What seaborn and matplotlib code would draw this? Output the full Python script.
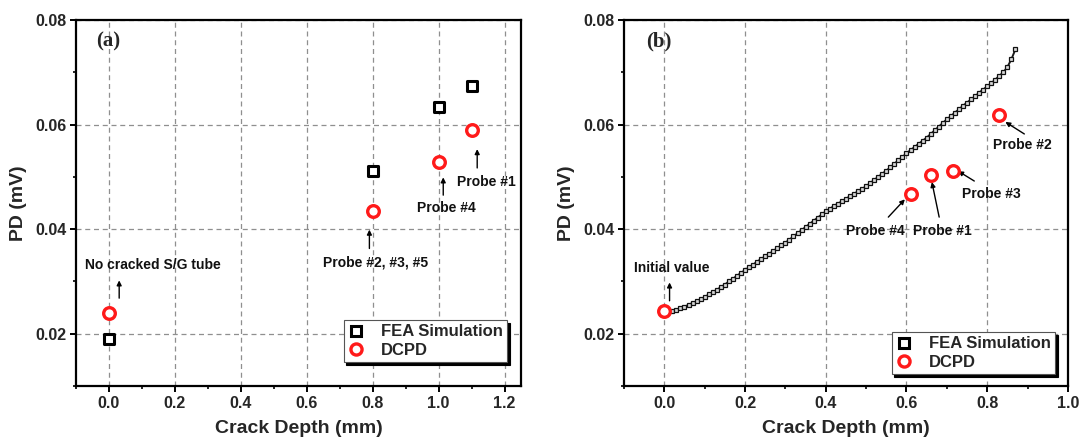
import numpy as np
import pandas as pd
import matplotlib
matplotlib.use("Agg")
import matplotlib.pyplot as plt
from matplotlib.lines import Line2D
from matplotlib.ticker import MultipleLocator
import seaborn as sns

# ---- panel (a): measured vs simulated PD at discrete crack depths ----
depth_a = [0.0, 0.8, 1.0, 1.1]
fea_a = [0.0190, 0.0511, 0.0633, 0.0674]
dcpd_a = [0.0240, 0.0434, 0.0529, 0.0589]

# ---- panel (b): continuous FEA curve and DCPD probe readings ----
depth_b_fea = [
    0.00, 0.01, 0.02, 0.03, 0.04, 0.05, 0.06, 0.07, 0.08, 0.09,
    0.10, 0.11, 0.12, 0.13, 0.14, 0.15, 0.16, 0.17, 0.18, 0.19,
    0.20, 0.21, 0.22, 0.23, 0.24, 0.25, 0.26, 0.27, 0.28, 0.29,
    0.30, 0.31, 0.32, 0.33, 0.34, 0.35, 0.36, 0.37, 0.38, 0.39,
    0.40, 0.41, 0.42, 0.43, 0.44, 0.45, 0.46, 0.47, 0.48, 0.49,
    0.50, 0.51, 0.52, 0.53, 0.54, 0.55, 0.56, 0.57, 0.58, 0.59,
    0.60, 0.61, 0.62, 0.63, 0.64, 0.65, 0.66, 0.67, 0.68, 0.69,
    0.70, 0.71, 0.72, 0.73, 0.74, 0.75, 0.76, 0.77, 0.78, 0.79,
    0.80, 0.81, 0.82, 0.83, 0.84, 0.85, 0.86, 0.87,
]
pd_b_fea = [
    0.0240, 0.0242, 0.0244, 0.0246, 0.0249, 0.0252, 0.0255, 0.0259, 0.0262, 0.0266,
    0.0270, 0.0275, 0.0279, 0.0284, 0.0289, 0.0294, 0.0300, 0.0305, 0.0311, 0.0316,
    0.0322, 0.0327, 0.0332, 0.0338, 0.0343, 0.0348, 0.0353, 0.0358, 0.0364, 0.0369,
    0.0374, 0.0380, 0.0386, 0.0392, 0.0398, 0.0404, 0.0410, 0.0416, 0.0422, 0.0428,
    0.0434, 0.0439, 0.0444, 0.0449, 0.0453, 0.0458, 0.0463, 0.0468, 0.0472, 0.0477,
    0.0482, 0.0488, 0.0494, 0.0500, 0.0506, 0.0512, 0.0518, 0.0525, 0.0532, 0.0538,
    0.0545, 0.0551, 0.0557, 0.0563, 0.0569, 0.0575, 0.0582, 0.0589, 0.0596, 0.0603,
    0.0610, 0.0616, 0.0623, 0.0629, 0.0636, 0.0642, 0.0648, 0.0654, 0.0661, 0.0667,
    0.0673, 0.0679, 0.0686, 0.0693, 0.0700, 0.0710, 0.0725, 0.0744,
]
depth_b_dcpd = [0.0, 0.610, 0.660, 0.715, 0.830]
pd_b_dcpd = [0.0243, 0.0468, 0.0504, 0.0512, 0.0619]

xticks_a = [0.0, 0.2, 0.4, 0.6, 0.8, 1.0, 1.2]
xticks_b = [0.0, 0.2, 0.4, 0.6, 0.8, 1.0]
yticks = [0.02, 0.04, 0.06, 0.08]

# annotation text: (label, text pos, arrow tail, arrow head)
notes_a = [
    ("No cracked S/G tube", (0.134, 0.0332), (0.031, 0.0268), (0.031, 0.0302)),
    ("Probe #2, #3, #5", (0.809, 0.0336), (0.790, 0.0363), (0.790, 0.0399)),
    ("Probe #4", (1.022, 0.0440), (1.014, 0.0465), (1.014, 0.0499)),
    ("Probe #1", (1.144, 0.0490), (1.117, 0.0517), (1.117, 0.0553)),
]
notes_b = [
    ("Initial value", (0.018, 0.0325), (0.013, 0.0263), (0.013, 0.0298)),
    ("Probe #4", (0.523, 0.0397), (0.555, 0.0423), (0.596, 0.0457)),
    ("Probe #1", (0.690, 0.0397), (0.681, 0.0423), (0.663, 0.0490)),
    ("Probe #3", (0.810, 0.0468), (0.768, 0.0492), (0.728, 0.0511)),
    ("Probe #2", (0.886, 0.0560), (0.892, 0.0582), (0.845, 0.0605)),
]

sns.set_theme(style="ticks")
plt.rcParams["font.family"] = ["Liberation Sans", "DejaVu Sans"]
plt.rcParams["font.weight"] = "bold"

fig = plt.figure(figsize=(10.81, 4.41), dpi=100)
ax_a = fig.add_axes([0.0703, 0.1247, 0.4117, 0.830])
ax_b = fig.add_axes([0.5772, 0.1247, 0.4107, 0.830])

SQ = dict(marker="s", s=52, facecolor="white", edgecolor="black", linewidth=2.2)
CI = dict(marker="o", s=70, facecolor="white", edgecolor="#ff1a1a", linewidth=2.4)


def style_axes(ax, xlim, xticks):
    ax.set_xlim(*xlim)
    ax.set_ylim(0.01, 0.08)
    ax.set_xticks(xticks)
    ax.set_yticks(yticks)
    ax.xaxis.set_minor_locator(MultipleLocator(0.1))
    ax.yaxis.set_minor_locator(MultipleLocator(0.01))
    ax.grid(True, which="major", linestyle=(0, (4, 3)), color="#8f8f8f", linewidth=0.9)
    ax.set_axisbelow(True)
    for sp in ax.spines.values():
        sp.set_visible(True)
        sp.set_linewidth(1.6)
        sp.set_color("black")
    ax.tick_params(which="major", direction="out", length=4, width=1.4,
                   labelsize=11.5, pad=3, color="black")
    ax.tick_params(which="minor", direction="out", length=2.5, width=1.2, color="black")
    ax.set_xticklabels([f"{t:.1f}" for t in xticks], fontweight="bold")
    ax.set_yticklabels([f"{t:.2f}" for t in yticks], fontweight="bold")
    ax.set_xlabel("Crack Depth (mm)", fontsize=14, fontweight="bold", labelpad=7)
    ax.set_ylabel("PD (mV)", fontsize=14, fontweight="bold", labelpad=6)


def annotate(ax, notes):
    for label, tpos, tail, head in notes:
        ax.text(tpos[0], tpos[1], label, ha="center", va="center",
                fontsize=10, fontweight="bold", color="#111111")
        ax.annotate("", xy=head, xytext=tail,
                    arrowprops=dict(arrowstyle="-|>", color="black", lw=1.0,
                                    mutation_scale=7, shrinkA=0, shrinkB=0))


def add_legend(ax, anchor):
    handles = [
        Line2D([], [], linestyle="none", marker="s", markersize=7,
               markerfacecolor="white", markeredgecolor="black", markeredgewidth=2.2),
        Line2D([], [], linestyle="none", marker="o", markersize=8,
               markerfacecolor="white", markeredgecolor="#ff1a1a", markeredgewidth=2.4),
    ]
    leg = ax.legend(handles, ["FEA Simulation", "DCPD"], loc="lower right",
                    bbox_to_anchor=anchor, frameon=True, fancybox=False,
                    shadow={"color": "black", "alpha": 1.0},
                    prop={"family": "Liberation Sans", "weight": "bold", "size": 12},
                    handlelength=1.0, handletextpad=1.0, borderpad=0.25,
                    labelspacing=0.2, borderaxespad=0)
    leg.get_frame().set_edgecolor("#555555")
    leg.get_frame().set_linewidth(0.8)


# panel (a)
df_a = pd.DataFrame({"depth": depth_a, "fea": fea_a, "dcpd": dcpd_a})
sns.scatterplot(data=df_a, x="depth", y="fea", ax=ax_a, zorder=3, **SQ)
sns.scatterplot(data=df_a, x="depth", y="dcpd", ax=ax_a, zorder=4, **CI)
style_axes(ax_a, (-0.1, 1.25), xticks_a)
annotate(ax_a, notes_a)
add_legend(ax_a, (0.969, 0.066))
ax_a.text(-0.003, 0.0758, "(a)", ha="center", va="center", fontsize=15,
          fontweight="bold", family=["Liberation Serif", "DejaVu Serif"])

# panel (b)
df_b = pd.DataFrame({"depth": depth_b_fea, "pd": pd_b_fea})
sns.lineplot(data=df_b, x="depth", y="pd", ax=ax_b, color="#1a1a1a", linewidth=1.4,
             marker="s", markersize=2.6, markerfacecolor="#d8d8d8",
             markeredgecolor="#111111", markeredgewidth=0.9, zorder=3)
df_bd = pd.DataFrame({"depth": depth_b_dcpd, "pd": pd_b_dcpd})
sns.scatterplot(data=df_bd, x="depth", y="pd", ax=ax_b, zorder=4, **CI)
style_axes(ax_b, (-0.1, 1.0), xticks_b)
annotate(ax_b, notes_b)
add_legend(ax_b, (0.971, 0.033))
ax_b.text(-0.013, 0.0758, "(b)", ha="center", va="center", fontsize=15,
          fontweight="bold", family=["Liberation Serif", "DejaVu Serif"])

fig.savefig("out.png", dpi=100)
